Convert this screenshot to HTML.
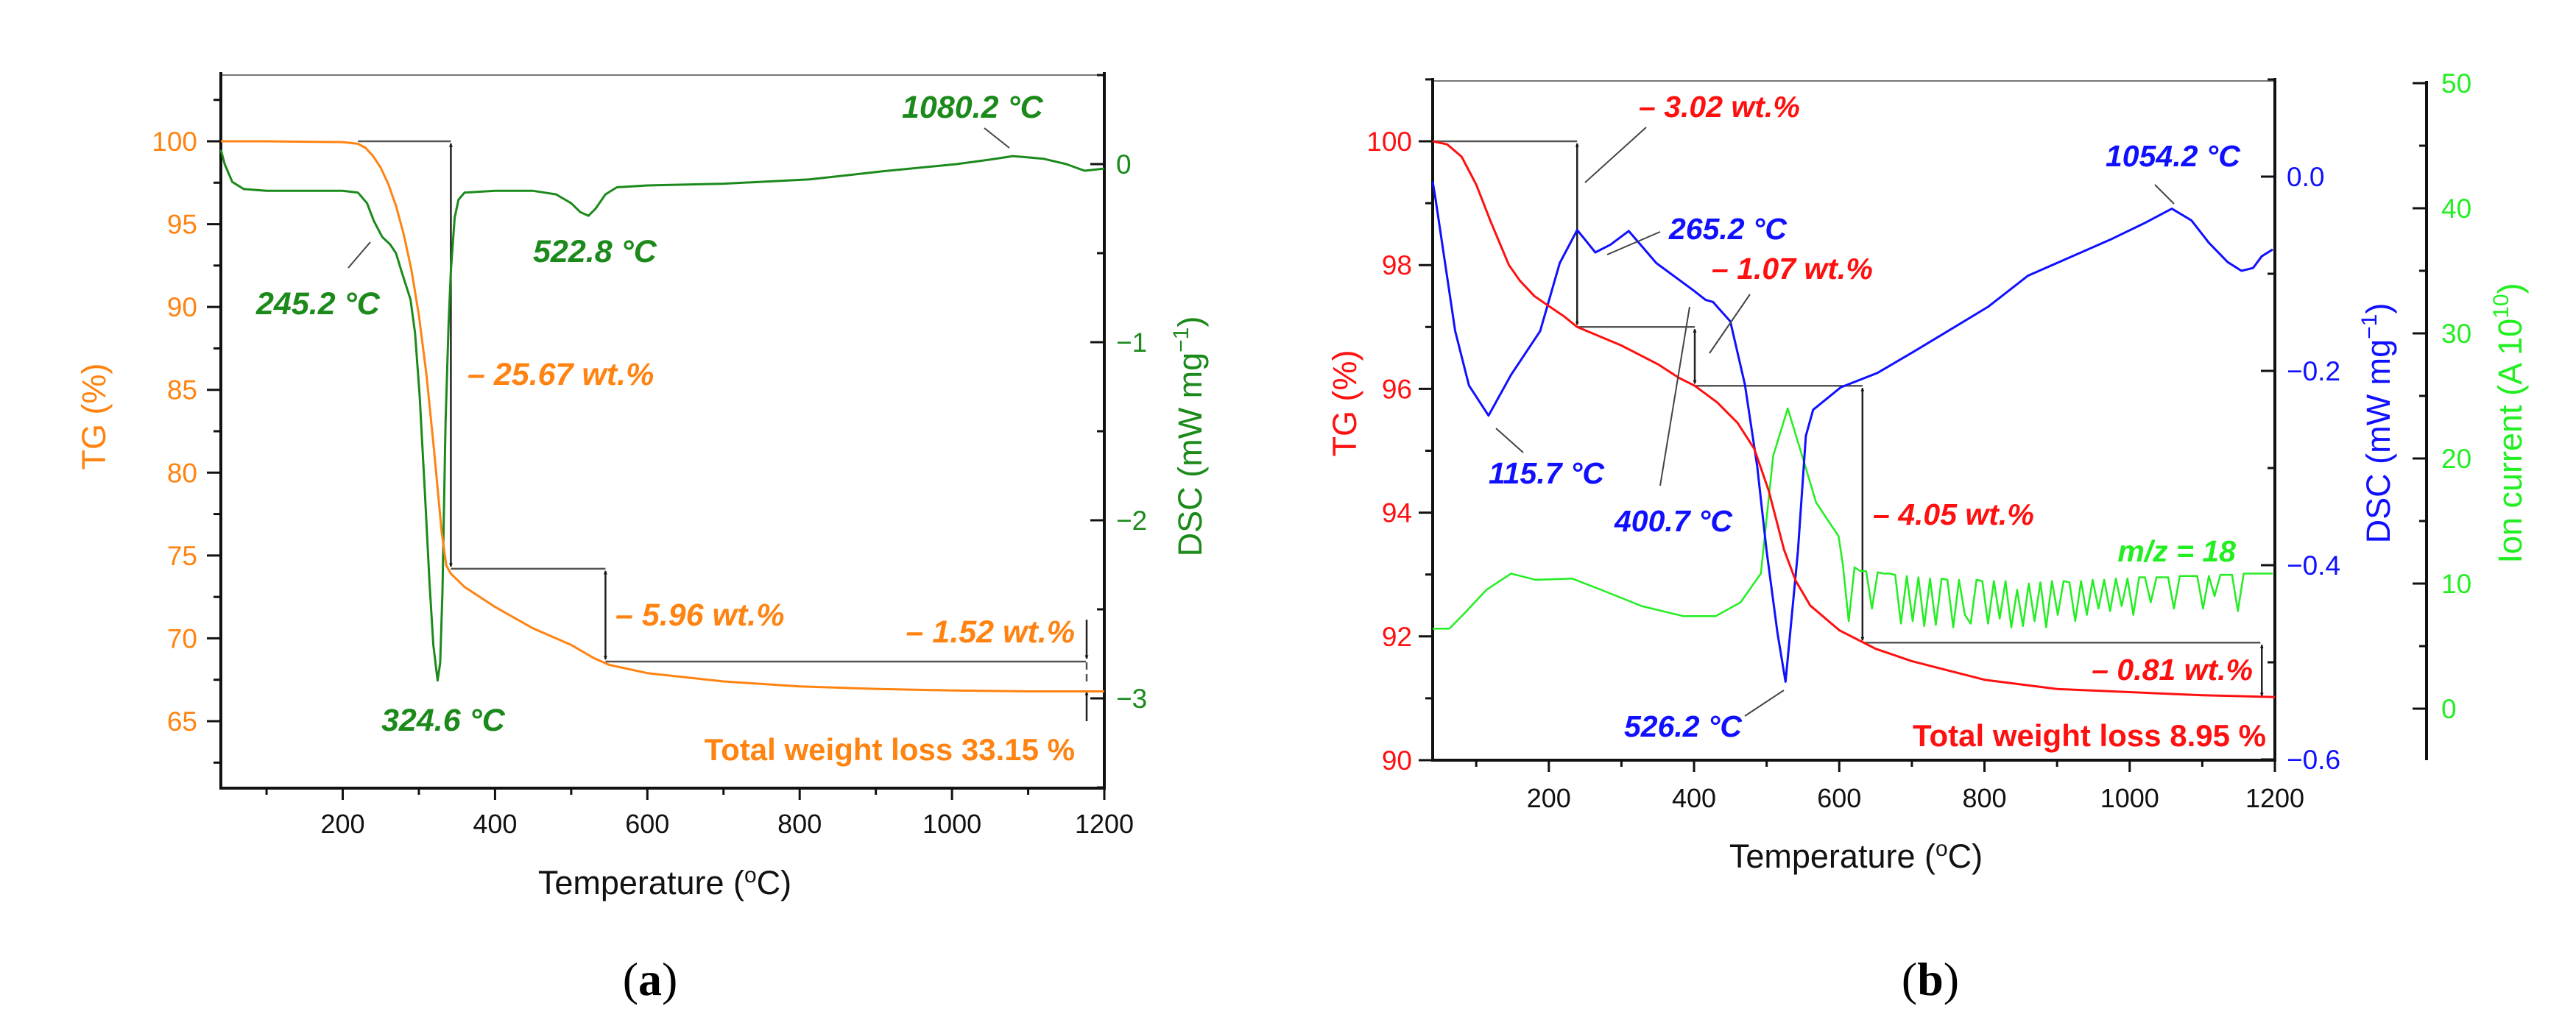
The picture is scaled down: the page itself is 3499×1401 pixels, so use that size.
<!DOCTYPE html>
<html><head><meta charset="utf-8"><title>TG-DSC curves</title>
<style>
html,body{margin:0;padding:0;background:#fff;}
svg{display:block;}
text{font-family:"Liberation Sans",Arial,sans-serif;}
.ann{font-family:"Liberation Sans Narrow","Liberation Sans",sans-serif;font-weight:bold;font-style:italic;}
.tot{font-family:"Liberation Sans Narrow","Liberation Sans",sans-serif;font-weight:bold;}
.lab{font-family:"Liberation Serif",serif;}
</style></head>
<body>
<svg id="fig" width="3499" height="1401" viewBox="0 0 3499 1401" xmlns="http://www.w3.org/2000/svg">
<defs>
<marker id="ah" viewBox="0 0 10 10" refX="9" refY="5" markerWidth="5" markerHeight="9" orient="auto-start-reverse" markerUnits="userSpaceOnUse"><path d="M0,0 L10,5 L0,10 z" fill="#111"/></marker>
</defs>
<g id="pa"></g>
<g id="pb"></g>
<text class="lab" x="883" y="1352" font-size="64" text-anchor="middle">(<tspan font-weight="bold">a</tspan>)</text>
<text class="lab" x="2622" y="1352" font-size="64" text-anchor="middle">(<tspan font-weight="bold">b</tspan>)</text>
</svg>
<script>
// ---------- Panel (a) data ----------
const aTgT = [40,100,200,220,230,240,250,260,270,280,290,300,310,320,330,336,342,360,400,450,500,530,550,600,700,800,900,1000,1100,1200];
const aTg  = [100,100,99.95,99.85,99.6,99.1,98.4,97.4,96.1,94.4,92.3,89.5,85.9,81.3,76.4,74.4,73.9,73.1,71.9,70.6,69.6,68.8,68.4,67.9,67.4,67.1,66.95,66.85,66.8,66.8];
const aDscT = [40,45,55,70,100,150,200,220,232,241,252,262,270,277,283,289,295,301,308,314,319,324.6,328,331,335,339,342,347,352,360,400,450,480,500,512,522.8,532,545,560,600,700,813,909,1006,1050,1080,1120,1150,1174,1200];
const aDsc  = [0.08,0.0,-0.1,-0.14,-0.15,-0.15,-0.15,-0.16,-0.22,-0.32,-0.41,-0.45,-0.5,-0.6,-0.68,-0.76,-0.95,-1.3,-1.85,-2.35,-2.7,-2.9,-2.8,-2.4,-1.45,-0.9,-0.6,-0.3,-0.2,-0.16,-0.15,-0.15,-0.17,-0.22,-0.27,-0.29,-0.25,-0.17,-0.13,-0.12,-0.11,-0.086,-0.04,0.0,0.025,0.045,0.03,0.0,-0.037,-0.025];
const aXTicks = [200,400,600,800,1000,1200];
const aTgTicks = [65,70,75,80,85,90,95,100];
const aDscTicks = [-3,-2,-1,0];

// ---------- Panel (b) data ----------
const bTgT = [40,60,80,100,120,145,160,180,196,220,239,300,350,379,401,432,460,483,503,524,540,560,600,650,700,800,900,1000,1100,1200];
const bTg  = [100,99.95,99.75,99.3,98.7,98.0,97.75,97.5,97.37,97.18,97.0,96.7,96.4,96.18,96.05,95.78,95.45,95.03,94.35,93.4,92.9,92.5,92.1,91.8,91.6,91.3,91.15,91.1,91.05,91.02];
const bDscT = [40,44,71,90,117,148,188,215,239,250,264,285,310,348,399,416,426,450,470,487,500,515,526,543,554,564,602,653,703,805,860,973,1020,1058,1085,1109,1135,1154,1170,1182,1197];
const bDsc  = [-0.005,-0.023,-0.159,-0.215,-0.246,-0.204,-0.159,-0.089,-0.055,-0.065,-0.078,-0.07,-0.056,-0.089,-0.117,-0.127,-0.129,-0.149,-0.214,-0.298,-0.386,-0.47,-0.52,-0.386,-0.267,-0.24,-0.217,-0.202,-0.18,-0.134,-0.102,-0.065,-0.048,-0.033,-0.045,-0.068,-0.088,-0.097,-0.094,-0.082,-0.075];
const bIonT = [40,63,85,114,148,182,232,272,328,385,430,464,492,509,529,551,568,585,599,
  605,613,621,629,637,645,653,661,669,677,685,693,701,709,717,725,733,741,749,757,765,773,781,789,797,805,813,821,829,837,845,853,861,869,877,885,893,901,909,917,925,933,941,949,957,965,973,981,989,997,1005,1013,1021,1029,1037,1045,1053,1061,1069,1077,1085,1093,1101,1109,1117,1125,1133,1141,1149,1157,1165,1173,1181,1189,1197];
const bIon  = [6.4,6.4,7.7,9.5,10.8,10.3,10.4,9.5,8.2,7.4,7.4,8.5,10.8,20.2,24.0,19.8,16.5,15.0,13.8,
  11.5,7.0,11.3,11.0,11.0,8.0,10.9,10.8,10.8,10.7,6.8,10.6,7.0,10.5,6.6,10.4,6.7,10.4,10.3,6.5,10.3,7.5,6.8,10.3,10.2,6.8,10.2,7.2,10.2,6.5,9.5,6.6,10.0,7.0,10.1,6.5,10.2,7.5,10.2,10.1,7.0,10.2,7.5,10.3,8.0,10.3,7.8,10.4,8.2,10.4,7.5,10.5,10.5,8.5,10.5,10.5,10.5,8.0,10.6,10.6,10.6,10.6,8.0,10.6,9.0,10.7,10.7,10.7,7.8,10.8,10.8,10.8,10.8,10.8,10.8];
const bXTicks = [200,400,600,800,1000,1200];
const bTgTicks = [90,92,94,96,98,100];
const bDscTicks = [-0.6,-0.4,-0.2,0.0];
const bIonTicks = [0,10,20,30,40,50];

const NS = "http://www.w3.org/2000/svg";
function el(parent, tag, attrs, txt){
  const e = document.createElementNS(NS, tag);
  for (const k in attrs) e.setAttribute(k, attrs[k]);
  if (txt !== undefined) e.textContent = txt;
  parent.appendChild(e);
  return e;
}
function lin(d0,d1,r0,r1){ return v => r0 + (v-d0)*(r1-r0)/(d1-d0); }
function pathFrom(xs, ys, fx, fy){
  return xs.map((t,i)=>(i?"L":"M")+fx(t).toFixed(1)+","+fy(ys[i]).toFixed(1)).join(" ");
}

// ================= PANEL A =================
(function(){
  const g = document.getElementById('pa');
  const L=300, R=1500, T=102, B=1071;
  const x = lin(40,1200,L,R);
  const yTg = lin(100,65,192,980);
  const yDsc = lin(0,-3,223,949);
  const OR="#ff8311", GR="#1b8a1b";

  let e;
  e = el(g,'line',{x1:L,y1:T,x2:R,y2:T,stroke:'#777','stroke-width':2});
  
  
  e = el(g,'line',{x1:L,y1:T-4,x2:L,y2:B+2,stroke:'#111','stroke-width':4});
  
  
  e = el(g,'line',{x1:R,y1:T-4,x2:R,y2:B+2,stroke:'#111','stroke-width':4});
  
  
  e = el(g,'line',{x1:L,y1:B,x2:R,y2:B,stroke:'#111','stroke-width':4});
  
  

  // x ticks
  for (let t=100;t<=1200;t+=100){
    const major = aXTicks.indexOf(t)>=0;
    e = el(g,'line',{x1:x(t),y1:B,x2:x(t),y2:B+(major?16:9),stroke:'#111','stroke-width':3});
    
    
  }
  aXTicks.forEach(t=>{
    e = el(g,'text',{x:x(t),y:1132,'font-size':36,'text-anchor':'middle',fill:'#111'},String(t));
    
    
  });
  // TG ticks
  for (let v=62.5; v<=102.5; v+=2.5){
    const major = aTgTicks.indexOf(v)>=0;
    e = el(g,'line',{x1:L-(major?19:10),y1:yTg(v),x2:L,y2:yTg(v),stroke:'#111','stroke-width':3});
    
    
  }
  aTgTicks.forEach(v=>{
    e = el(g,'text',{x:L-32,y:yTg(v)+13,'font-size':37,'text-anchor':'end',fill:OR},String(v));
    
    
  });
  // DSC ticks
  for (let v=-3.5; v<=0.5; v+=0.5){
    const major = aDscTicks.indexOf(v)>=0;
    e = el(g,'line',{x1:R-(major?19:10),y1:yDsc(v),x2:R,y2:yDsc(v),stroke:'#111','stroke-width':3});
    
    
  }
  aDscTicks.forEach(v=>{
    e = el(g,'text',{x:R+16,y:yDsc(v)+13,'font-size':37,'text-anchor':'start',fill:GR},(v<0?"\u2212"+(-v):String(v)));
    
    
  });
  // titles
  e = el(g,'text',{x:903,y:1215,'font-size':45,'text-anchor':'middle',fill:'#111'});
  e.innerHTML = 'Temperature (<tspan dy="-16" font-size="30">o</tspan><tspan dy="16">C)</tspan>';
  
  
  e = el(g,'text',{x:0,y:0,'font-size':45,'text-anchor':'middle',fill:OR,transform:'translate(143,566) rotate(-90)'},'TG (%)');
  
  
  e = el(g,'text',{x:0,y:0,'font-size':45,'text-anchor':'middle',fill:GR,transform:'translate(1632,593) rotate(-90)'});
  e.innerHTML = 'DSC (mW mg<tspan dy="-18" font-size="30">\u22121</tspan><tspan dy="18">)</tspan>';
  
  

  // step lines
  const gray = {stroke:'#555','stroke-width':2.5,fill:'none'};
  const segs = [[220,342,100,100],[342,545,74.2,74.2],[545,1176,68.6,68.6]];
  segs.forEach(s=>{
    e = el(g,'line',Object.assign({x1:x(s[0]),y1:yTg(s[2]),x2:x(s[1]),y2:yTg(s[3])},gray));
    
    
  });
  const arrows = [[342,100,74.2],[545,74.2,68.6]];
  arrows.forEach(a=>{
    e = el(g,'line',Object.assign({x1:x(a[0]),y1:yTg(a[1])+3,x2:x(a[0]),y2:yTg(a[2])-3,'marker-start':'url(#ah)','marker-end':'url(#ah)'},gray,{stroke:'#222'}));
    
    
  });
  e = el(g,'line',Object.assign({x1:1476,y1:842,x2:1476,y2:895,'marker-end':'url(#ah)'},gray,{stroke:'#222'}));
  
  
  e = el(g,'line',Object.assign({x1:1476,y1:900,x2:1476,y2:930,'stroke-dasharray':'10,6'},gray));
  
  
  e = el(g,'line',Object.assign({x1:1476,y1:980,x2:1476,y2:940,'marker-end':'url(#ah)'},gray,{stroke:'#222'}));
  
  

  // series
  e = el(g,'path',{d:pathFrom(aDscT,aDsc,x,yDsc),fill:'none',stroke:GR,'stroke-width':3,'stroke-linejoin':'round'});
  
  
  e = el(g,'path',{d:pathFrom(aTgT,aTg,x,yTg),fill:'none',stroke:OR,'stroke-width':3,'stroke-linejoin':'round'});
  
  

  // leaders
  [[473,364,503,329],[1337,174,1371,201]].forEach(l=>{
    e = el(g,'line',{x1:l[0],y1:l[1],x2:l[2],y2:l[3],stroke:'#444','stroke-width':2});
    
    
  });
  // annotations
  const anns = [
    ['245.2 \u00B0C',348,427,'start',GR,'peak-label-245'],
    ['324.6 \u00B0C',518,993,'start',GR,'peak-label-324'],
    ['522.8 \u00B0C',724,356,'start',GR,'peak-label-522'],
    ['1080.2 \u00B0C',1225,160,'start',GR,'peak-label-1080'],
    ['\u2013 25.67 wt.%',635,523,'start',OR,'loss-label-25-67'],
    ['\u2013 5.96 wt.%',836,850,'start',OR,'loss-label-5-96'],
    ['\u2013 1.52 wt.%',1460,873,'end',OR,'loss-label-1-52']
  ];
  anns.forEach(a=>{
    e = el(g,'text',{class:'ann',x:a[1],y:a[2],'font-size':43,'text-anchor':a[3],fill:a[4]},a[0]);
    
    
  });
  e = el(g,'text',{class:'tot',x:1460,y:1033,'font-size':42,'text-anchor':'end',fill:OR},'Total weight loss 33.15 %');
  
  
})();

// ================= PANEL B =================
(function(){
  const g = document.getElementById('pb');
  const L=1946, R=3090, T=110, B=1033, RI=3296;
  const x = lin(40,1200,L,R);
  const yTg = lin(100,90,192,1033);
  const yDsc = lin(0,-0.6,240,1032);
  const yIon = lin(0,50,963,113);
  const RD="#ff1010", BL="#1010ff", LG="#22ee22";
  let e;
  e = el(g,'line',{x1:L,y1:T,x2:R,y2:T,stroke:'#777','stroke-width':2});
  
  
  e = el(g,'line',{x1:L,y1:T-4,x2:L,y2:B+2,stroke:'#111','stroke-width':4});
  
  
  e = el(g,'line',{x1:R,y1:T-4,x2:R,y2:B+2,stroke:'#111','stroke-width':4});
  
  
  e = el(g,'line',{x1:RI,y1:T,x2:RI,y2:B,stroke:'#111','stroke-width':4});
  
  
  e = el(g,'line',{x1:L,y1:B,x2:R,y2:B,stroke:'#111','stroke-width':4});
  
  

  for (let t=100;t<=1200;t+=100){
    const major = bXTicks.indexOf(t)>=0;
    e = el(g,'line',{x1:x(t),y1:B,x2:x(t),y2:B+(major?16:9),stroke:'#111','stroke-width':3});
    
    
  }
  bXTicks.forEach(t=>{
    e = el(g,'text',{x:x(t),y:1097,'font-size':36,'text-anchor':'middle',fill:'#111'},String(t));
    
    
  });
  for (let v=90; v<=101.01; v+=1){
    const major = bTgTicks.indexOf(Math.round(v))>=0;
    e = el(g,'line',{x1:L-(major?19:10),y1:yTg(v),x2:L,y2:yTg(v),stroke:'#111','stroke-width':3});
    
    
  }
  bTgTicks.forEach(v=>{
    e = el(g,'text',{x:L-28,y:yTg(v)+13,'font-size':37,'text-anchor':'end',fill:RD},String(v));
    
    
  });
  for (let k=-6;k<=1;k++){
    const v=k/10; const major = (k%2===0);
    e = el(g,'line',{x1:R-(major?19:10),y1:yDsc(v),x2:R,y2:yDsc(v),stroke:'#111','stroke-width':3});
    
    
  }
  bDscTicks.forEach(v=>{
    e = el(g,'text',{x:R+16,y:yDsc(v)+13,'font-size':37,'text-anchor':'start',fill:BL},(v<0?"\u2212"+(-v).toFixed(1):v.toFixed(1)));
    
    
  });
  for (let v=-0; v<=50; v+=5){
    const major = bIonTicks.indexOf(v)>=0;
    e = el(g,'line',{x1:RI-(major?19:10),y1:yIon(v),x2:RI,y2:yIon(v),stroke:'#111','stroke-width':3});
    
    
  }
  bIonTicks.forEach(v=>{
    e = el(g,'text',{x:RI+20,y:yIon(v)+13,'font-size':37,'text-anchor':'start',fill:LG},String(v));
    
    
  });
  e = el(g,'text',{x:2521,y:1179,'font-size':45,'text-anchor':'middle',fill:'#111'});
  e.innerHTML = 'Temperature (<tspan dy="-16" font-size="30">o</tspan><tspan dy="16">C)</tspan>';
  
  
  e = el(g,'text',{x:0,y:0,'font-size':45,'text-anchor':'middle',fill:RD,transform:'translate(1842,548) rotate(-90)'},'TG (%)');
  
  
  e = el(g,'text',{x:0,y:0,'font-size':45,'text-anchor':'middle',fill:BL,transform:'translate(3246,575) rotate(-90)'});
  e.innerHTML = 'DSC (mW mg<tspan dy="-18" font-size="30">\u22121</tspan><tspan dy="18">)</tspan>';
  
  
  e = el(g,'text',{x:0,y:0,'font-size':45,'text-anchor':'middle',fill:LG,transform:'translate(3425,575) rotate(-90)'});
  e.innerHTML = 'Ion current (A 10<tspan dy="-18" font-size="30">10</tspan><tspan dy="18">)</tspan>';
  
  

  const gray = {stroke:'#555','stroke-width':2.5,fill:'none'};
  [[40,239,100],[239,401,97.0],[401,632,96.05],[632,1180,91.9]].forEach(s=>{
    e = el(g,'line',Object.assign({x1:x(s[0]),y1:yTg(s[2]),x2:x(s[1]),y2:yTg(s[2])},gray));
    
    
  });
  [[239,100,97.0],[401,97.0,96.05],[632,96.05,91.9],[1182,91.9,91.0]].forEach(a=>{
    e = el(g,'line',Object.assign({x1:x(a[0]),y1:yTg(a[1])+3,x2:x(a[0]),y2:yTg(a[2])-3,'marker-start':'url(#ah)','marker-end':'url(#ah)'},gray,{stroke:'#222'}));
    
    
  });

  e = el(g,'path',{d:pathFrom(bIonT,bIon,x,yIon),fill:'none',stroke:LG,'stroke-width':2.5,'stroke-linejoin':'round'});
  
  
  e = el(g,'path',{d:pathFrom(bDscT,bDsc,x,yDsc),fill:'none',stroke:BL,'stroke-width':3,'stroke-linejoin':'round'});
  
  
  e = el(g,'path',{d:pathFrom(bTgT,bTg,x,yTg),fill:'none',stroke:RD,'stroke-width':3,'stroke-linejoin':'round'});
  
  

  [[2153,248,2236,173],[2183,346,2255,315],[2322,480,2377,400],[2032,582,2069,615],[2255,660,2295,417],[2370,973,2423,938],[2927,251,2953,277]].forEach(l=>{
    e = el(g,'line',{x1:l[0],y1:l[1],x2:l[2],y2:l[3],stroke:'#444','stroke-width':2});
    
    
  });
  const anns = [
    ['\u2013 3.02 wt.%',2226,159,'start',RD,'loss-label-3-02'],
    ['265.2 \u00B0C',2267,325,'start',BL,'peak-label-265'],
    ['\u2013 1.07 wt.%',2325,379,'start',RD,'loss-label-1-07'],
    ['115.7 \u00B0C',2022,657,'start',BL,'peak-label-115'],
    ['400.7 \u00B0C',2193,722,'start',BL,'peak-label-400'],
    ['\u2013 4.05 wt.%',2544,713,'start',RD,'loss-label-4-05'],
    ['m/z = 18',3037,763,'end',LG,'mz-18-label'],
    ['\u2013 0.81 wt.%',3060,924,'end',RD,'loss-label-0-81'],
    ['526.2 \u00B0C',2206,1001,'start',BL,'peak-label-526'],
    ['1054.2 \u00B0C',2860,226,'start',BL,'peak-label-1054']
  ];
  anns.forEach(a=>{
    e = el(g,'text',{class:'ann',x:a[1],y:a[2],'font-size':41,'text-anchor':a[3],fill:a[4]},a[0]);
    
    
  });
  e = el(g,'text',{class:'tot',x:3078,y:1014,'font-size':42,'text-anchor':'end',fill:RD},'Total weight loss 8.95 %');
  
  
})();
</script>
</body></html>
